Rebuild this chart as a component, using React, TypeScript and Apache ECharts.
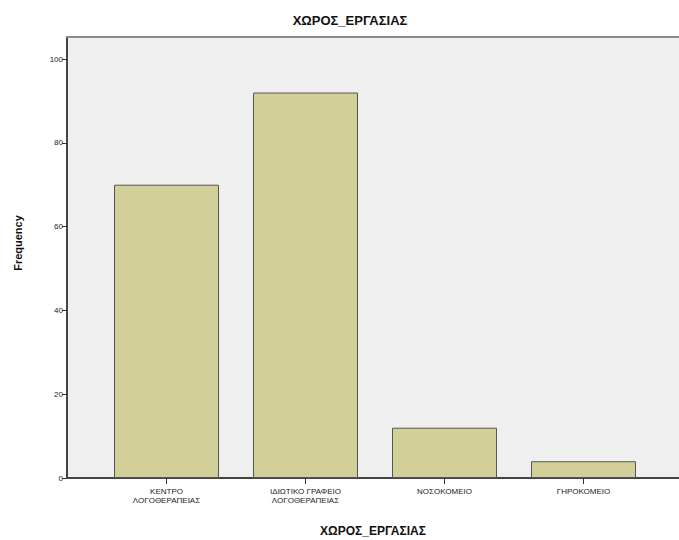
import React, { useEffect, useRef } from "react";
import * as echarts from "echarts";

const categories = [
  "ΚΕΝΤΡΟ\nΛΟΓΟΘΕΡΑΠΕΙΑΣ",
  "ΙΔΙΩΤΙΚΟ ΓΡΑΦΕΙΟ\nΛΟΓΟΘΕΡΑΠΕΙΑΣ",
  "ΝΟΣΟΚΟΜΕΙΟ",
  "ΓΗΡΟΚΟΜΕΙΟ",
];
const frequencies = [70, 92, 12, 4];
const chartTitle = "ΧΩΡΟΣ_ΕΡΓΑΣΙΑΣ";
const xTitle = "ΧΩΡΟΣ_ΕΡΓΑΣΙΑΣ";
const yTitle = "Frequency";

export default function App() {
  const ref = useRef<HTMLDivElement>(null);
  useEffect(() => {
    if (!ref.current) return;
    const chart = echarts.init(ref.current, null, { renderer: "svg" });
    const font = "'Liberation Sans', Arial, sans-serif";
    chart.setOption({
      animation: false,
      backgroundColor: "#ffffff",
      textStyle: { fontFamily: font },
      title: {
        text: chartTitle,
        left: 345,
        textAlign: "center",
        top: 9,
        textStyle: { fontSize: 13, fontWeight: "bold", color: "#111", fontFamily: font },
      },
      graphic: [
        {
          type: "text",
          x: 18,
          y: 243,
          rotation: Math.PI / 2,
          style: {
            text: yTitle,
            fontSize: 11,
            fontWeight: "bold",
            fill: "#111",
            fontFamily: font,
            align: "center",
            verticalAlign: "middle",
          },
        },
        {
          type: "text",
          x: 373,
          y: 531,
          style: {
            text: xTitle,
            fontSize: 12,
            fontWeight: "bold",
            fill: "#111",
            fontFamily: font,
            align: "center",
            verticalAlign: "middle",
          },
        },
      ],
      grid: [
        { left: 97, right: 26, top: 59, bottom: 62 },
        {
          left: 67,
          right: 0,
          top: 37,
          bottom: 62,
          show: true,
          backgroundColor: "#efefef",
          borderWidth: 0,
        },
      ],
      xAxis: [
        {
          type: "category",
          gridIndex: 0,
          data: categories,
          boundaryGap: true,
          axisLine: { show: false },
          axisTick: { show: true, alignWithLabel: true, length: 6, lineStyle: { color: "#333", width: 1 } },
          axisLabel: { fontSize: 8, color: "#222", margin: 9, lineHeight: 9, interval: 0 },
          splitLine: { show: false },
        },
        {
          type: "value",
          gridIndex: 1,
          position: "bottom",
          min: 0,
          max: 1,
          axisLine: { show: true, lineStyle: { color: "#444", width: 2 } },
          axisTick: { show: false },
          axisLabel: { show: false },
          splitLine: { show: false },
        },
        {
          type: "value",
          gridIndex: 1,
          position: "top",
          min: 0,
          max: 1,
          axisLine: { show: true, lineStyle: { color: "#8a8a8a", width: 2 } },
          axisTick: { show: false },
          axisLabel: { show: false },
          splitLine: { show: false },
        },
      ],
      yAxis: [
        {
          type: "value",
          gridIndex: 0,
          min: 0,
          max: 100,
          interval: 20,
          offset: 30,
          axisLine: { show: true, lineStyle: { color: "#444", width: 2 } },
          axisTick: { show: true, length: 5, lineStyle: { color: "#333", width: 1 } },
          axisLabel: { fontSize: 8, color: "#222", margin: 4 },
          splitLine: { show: false },
        },
        {
          type: "value",
          gridIndex: 1,
          min: 0,
          max: 1,
          axisLine: { show: true, lineStyle: { color: "#444", width: 2 } },
          axisTick: { show: false },
          axisLabel: { show: false },
          splitLine: { show: false },
        },
      ],
      series: [
        {
          type: "bar",
          xAxisIndex: 0,
          yAxisIndex: 0,
          data: frequencies,
          barWidth: 105,
          itemStyle: { color: "#d3cf98", borderColor: "#555", borderWidth: 1 },
        },
      ],
    });
    return () => chart.dispose();
  }, []);
  return (
    <div
      ref={ref}
      style={{ position: "fixed", left: 0, top: 0, width: 679, height: 540 }}
    />
  );
}
